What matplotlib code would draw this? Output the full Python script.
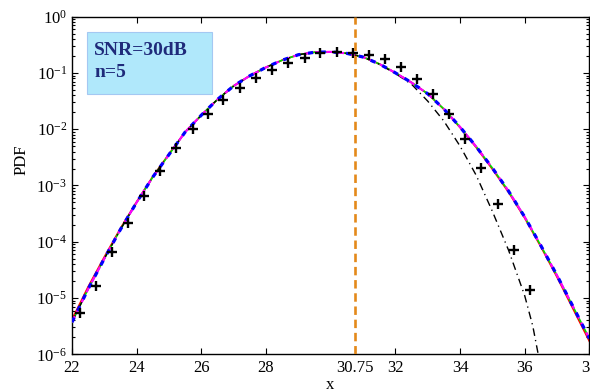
import matplotlib
matplotlib.use("Agg")
import matplotlib.pyplot as plt
from matplotlib.patches import Rectangle
from matplotlib.ticker import LogLocator, NullFormatter, FixedLocator

plt.rcParams['font.family'] = ['Liberation Serif', 'DejaVu Serif']
plt.rcParams['mathtext.fontset'] = 'stix'

# grid of evaluation points for the density curves
x_grid = [22.0, 22.5, 23.0, 23.5, 24.0, 24.5, 25.0, 25.5, 26.0, 26.5, 27.0,
          27.5, 28.0, 28.5, 29.0, 29.5, 30.0, 30.5, 31.0, 31.5, 32.0, 32.5,
          33.0, 33.5, 34.0, 34.5, 35.0, 35.5, 36.0, 36.5, 37.0, 37.5, 38.0]

# log10 of the exact PDF (red)
log_pdf_exact = [-5.38, -4.80, -4.27, -3.76, -3.29, -2.84, -2.44, -2.05, -1.75,
                 -1.47, -1.23, -1.05, -0.90, -0.773, -0.676, -0.632, -0.625,
                 -0.652, -0.717, -0.839, -0.998, -1.171, -1.37, -1.645, -1.97,
                 -2.325, -2.71, -3.12, -3.58, -4.09, -4.63, -5.20, -5.77]

# log10 of the approximations (green, magenta, blue)
log_pdf_approx = [-5.43, -4.84, -4.30, -3.78, -3.30, -2.85, -2.45, -2.05, -1.75,
                  -1.47, -1.23, -1.05, -0.90, -0.773, -0.676, -0.632, -0.625,
                  -0.652, -0.717, -0.839, -0.998, -1.171, -1.37, -1.64, -1.96,
                  -2.31, -2.69, -3.10, -3.56, -4.07, -4.60, -5.16, -5.72]

# log10 of the truncated approximation (black dash-dot)
x_trunc = [22.0, 22.5, 23.0, 23.5, 24.0, 24.5, 25.0, 25.5, 26.0, 26.5, 27.0,
           27.5, 28.0, 28.5, 29.0, 29.5, 30.0, 30.5, 31.0, 31.5, 32.0, 32.5,
           33.0, 33.5, 34.0, 34.5, 35.0, 35.5, 36.0, 36.25, 36.5]
log_pdf_trunc = [-5.43, -4.84, -4.30, -3.78, -3.30, -2.85, -2.45, -2.05, -1.75,
                 -1.47, -1.23, -1.05, -0.90, -0.773, -0.676, -0.632, -0.625,
                 -0.652, -0.717, -0.845, -1.01, -1.20, -1.50, -1.855, -2.30,
                 -2.82, -3.46, -4.15, -4.96, -5.50, -6.25]

# simulated histogram points
x_sim = [22.25, 22.73, 23.23, 23.72, 24.23, 24.73, 25.23, 25.74, 26.20, 26.68,
         27.20, 27.70, 28.19, 28.69, 29.19, 29.68, 30.19, 30.68, 31.17, 31.67,
         32.18, 32.68, 33.17, 33.66, 34.16, 34.66, 35.16, 35.66, 36.15]
log_pdf_sim = [-5.27, -4.79, -4.18, -3.66, -3.19, -2.74, -2.33, -2.00, -1.73,
               -1.48, -1.27, -1.095, -0.947, -0.828, -0.729, -0.650, -0.627,
               -0.645, -0.681, -0.757, -0.899, -1.112, -1.379, -1.729, -2.168,
               -2.694, -3.334, -4.146, -4.857]

threshold = 30.75
x_ticks = [22, 24, 26, 28, 30.75, 32, 34, 36, 38]
x_ticklabels = ['22', '24', '26', '28', '30.75', '32', '34', '36', '38']


def unlog(vals):
    return [10.0 ** v for v in vals]


fig = plt.figure(figsize=(5.9, 3.91), dpi=100)
ax = fig.add_axes([0.122, 0.0939, 0.877, 0.8634])

ax.plot(x_grid, unlog(log_pdf_exact), color='red', lw=1.2, zorder=2)
ax.plot(x_grid, unlog(log_pdf_approx), color='#00dd00', lw=1.2, zorder=3)
ax.plot(x_trunc, unlog(log_pdf_trunc), color='black', lw=1.0,
        dashes=(5.5, 3.0, 0.9, 3.0), zorder=4)
ax.plot(x_grid, unlog(log_pdf_approx), color='magenta', lw=1.6,
        dashes=(3.0, 2.0), zorder=5)
ax.plot(x_grid, unlog(log_pdf_approx), color='blue', lw=2.3,
        dashes=(1.6, 2.4), zorder=6)
ax.plot(x_sim, unlog(log_pdf_sim), linestyle='none', marker='+',
        color='black', markersize=7.5, markeredgewidth=1.7, zorder=7)
ax.axvline(threshold, color='#e4891a', lw=1.9, dashes=(3.2, 1.8), zorder=8)

ax.set_yscale('log')
ax.set_xlim(22, 38)
ax.set_ylim(1e-6, 1e0)

ax.xaxis.set_major_locator(FixedLocator(x_ticks))
ax.set_xticklabels(x_ticklabels)
ax.yaxis.set_major_locator(LogLocator(base=10, numticks=10))
ax.yaxis.set_minor_locator(LogLocator(base=10, subs=range(2, 10), numticks=20))
ax.yaxis.set_minor_formatter(NullFormatter())

ax.tick_params(which='both', direction='in', top=True, right=True,
               labelsize=12, width=0.8)
ax.tick_params(which='major', length=4)
ax.tick_params(which='minor', length=2.2)
ax.tick_params(axis='x', pad=4)
for sp in ax.spines.values():
    sp.set_linewidth(1.0)

ax.set_xlabel('x', fontsize=12)
ax.set_ylabel('PDF', fontsize=12)
ax.xaxis.set_label_coords(0.499, -0.066)
ax.yaxis.set_label_coords(-0.083, 0.575)

ax.add_patch(Rectangle((0.029, 0.771), 0.242, 0.184, transform=ax.transAxes,
                       facecolor='#b0e8fb', edgecolor='#a4c8f2', lw=0.8,
                       zorder=9))
ax.text(0.0426, 0.8866, 'SNR=30dB', transform=ax.transAxes, fontsize=14,
        fontweight='bold', color='#1f2a7a', va='baseline', ha='left',
        zorder=10)
ax.text(0.0426, 0.8223, 'n=5', transform=ax.transAxes, fontsize=14,
        fontweight='bold', color='#1f2a7a', va='baseline', ha='left',
        zorder=10)

fig.savefig('out.png', dpi=100)
